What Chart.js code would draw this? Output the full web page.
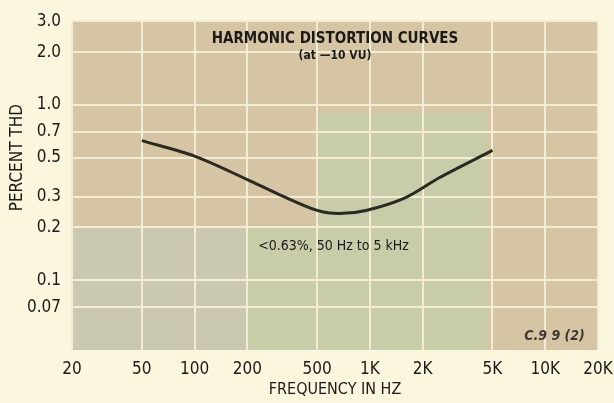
<!DOCTYPE html>
<html lang="en">
<head>
    <meta charset="UTF-8">
    <title>Harmonic Distortion Curves</title>
    <script src="https://cdn.jsdelivr.net/npm/chart.js@4.4.0/dist/chart.umd.min.js"></script>
    <style>
        html, body {
            margin: 0;
            padding: 0;
            background: #fbf6de;
        }
        .chart-box {
            width: 614px;
            height: 403px;
        }
    </style>
</head>
<body>
    <div class="chart-box"><canvas id="thd-chart"></canvas></div>

    <script>
        // Frequency (Hz) and percent THD
        const freqs = [50, 100, 200, 300, 500, 670, 950, 1600, 2500, 5000];
        const thd = [0.625, 0.51, 0.375, 0.31, 0.25, 0.24, 0.25, 0.296, 0.385, 0.55];

        // Axis ticks and their labels
        const xTicks = [20, 50, 100, 200, 500, 1000, 2000, 5000, 10000, 20000];
        const xLabels = ['20', '50', '100', '200', '500', '1K', '2K', '5K', '10K', '20K'];
        const yTicks = [0.07, 0.1, 0.2, 0.3, 0.5, 0.7, 1, 2, 3];
        const yLabels = ['0.07', '0.1', '0.2', '0.3', '0.5', '0.7', '1.0', '2.0', '3.0'];

        const FONT = '"DejaVu Sans Condensed", "Liberation Sans Narrow", sans-serif';

        const points = freqs.map((f, i) => ({ x: f, y: thd[i] }));

        // Paper-like plot background, drawn under the grid
        const backdrop = {
            id: 'backdrop',
            beforeDraw(chart) {
                const { ctx, chartArea: a, scales: { x, y } } = chart;
                ctx.save();
                ctx.fillStyle = '#d6c5a5';
                ctx.fillRect(a.left, a.top, a.width, a.height);

                const x200 = x.getPixelForValue(200);
                const x500 = x.getPixelForValue(500);
                const xEnd = x.getPixelForValue(4700);
                const y02 = y.getPixelForValue(0.2);
                const y09 = y.getPixelForValue(0.9);

                // pale green patches in the middle
                ctx.fillStyle = '#c9cca8';
                ctx.fillRect(x200, y02, xEnd - x200, a.bottom - y02);
                ctx.fillRect(x500, y09, xEnd - x500, y02 - y09);
                // greyish lower left
                ctx.fillStyle = '#cbc8b2';
                ctx.fillRect(a.left, y02, x200 - a.left, a.bottom - y02);
                ctx.restore();
            }
        };

        // Texts printed inside the chart
        const labels = {
            id: 'labels',
            afterDatasetsDraw(chart) {
                const { ctx, chartArea: a, scales: { x, y } } = chart;
                const cx = (a.left + a.right) / 2;
                ctx.save();
                ctx.fillStyle = '#1c1a16';
                ctx.textAlign = 'center';
                ctx.textBaseline = 'middle';

                ctx.font = 'bold 15px ' + FONT;
                ctx.fillText('HARMONIC DISTORTION CURVES', cx, a.top + 18);
                ctx.font = 'bold 12px ' + FONT;
                ctx.fillText('(at \u201410 VU)', cx, a.top + 35);

                ctx.font = '14px ' + FONT;
                ctx.fillText('<0.63%, 50 Hz to 5 kHz', x.getPixelForValue(620), y.getPixelForValue(0.155));

                ctx.font = 'italic bold 14px ' + FONT;
                ctx.fillStyle = '#3e3834';
                ctx.fillText('C.9 9 (2)', x.getPixelForValue(11300), y.getPixelForValue(0.048));

                // y axis title
                ctx.fillStyle = '#1c1a16';
                ctx.font = '17px ' + FONT;
                ctx.translate(18, y.getPixelForValue(0.5));
                ctx.rotate(-Math.PI / 2);
                ctx.fillText('PERCENT THD', 0, 0);
                ctx.restore();
            }
        };

        new Chart(document.getElementById('thd-chart'), {
            type: 'line',
            data: {
                datasets: [{
                    data: points,
                    borderColor: '#2b2a22',
                    borderWidth: 3,
                    pointRadius: 0,
                    tension: 0.3,
                    fill: false
                }]
            },
            options: {
                responsive: true,
                maintainAspectRatio: false,
                animation: false,
                layout: { padding: { top: 20, right: 16, left: 0, bottom: 0 } },
                plugins: {
                    legend: { display: false },
                    tooltip: { enabled: false }
                },
                scales: {
                    x: {
                        type: 'logarithmic',
                        min: 20,
                        max: 20000,
                        afterBuildTicks: s => { s.ticks = xTicks.map(v => ({ value: v })); },
                        afterFit: s => {
                            s.height = 53;
                            s.paddingLeft = 0;
                            s.paddingRight = 0;
                        },
                        border: { display: false },
                        grid: { color: '#f4ecd2', lineWidth: 2, drawTicks: false },
                        ticks: {
                            padding: 9,
                            color: '#1c1a16',
                            font: { family: FONT, size: 17 },
                            maxRotation: 0,
                            autoSkip: false,
                            callback: v => xLabels[xTicks.indexOf(v)]
                        },
                        title: {
                            display: true,
                            text: 'FREQUENCY IN HZ',
                            color: '#1c1a16',
                            font: { family: FONT, size: 16 },
                            padding: { top: 1 }
                        }
                    },
                    y: {
                        type: 'logarithmic',
                        min: 0.04,
                        max: 3,
                        afterBuildTicks: s => { s.ticks = yTicks.map(v => ({ value: v })); },
                        afterFit: s => { s.width = 72; },
                        border: { display: false },
                        grid: { color: '#f4ecd2', lineWidth: 2, drawTicks: false },
                        ticks: {
                            padding: 11,
                            color: '#1c1a16',
                            font: { family: FONT, size: 17 },
                            autoSkip: false,
                            callback: v => yLabels[yTicks.indexOf(v)]
                        }
                    }
                }
            },
            plugins: [backdrop, labels]
        });
    </script>
</body>
</html>
